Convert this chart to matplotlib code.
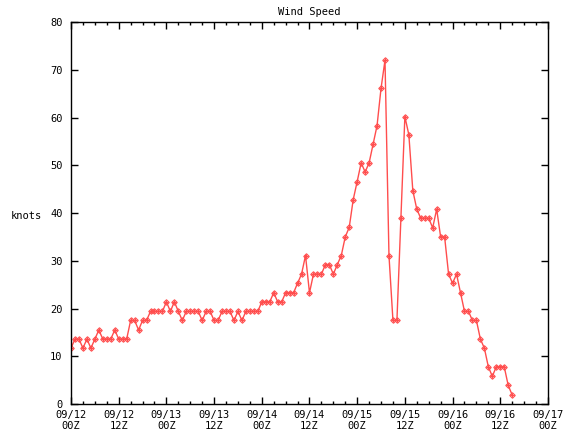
import numpy as np
import matplotlib
matplotlib.use("Agg")
import matplotlib.pyplot as plt

# hourly wind speed (knots) starting 09/12 00Z
speed = [11.7, 13.6, 13.6, 11.7, 13.6, 11.7, 13.6, 15.5, 13.6, 13.6,
         13.6, 15.5, 13.6, 13.6, 13.6, 17.5, 17.5, 15.5, 17.5, 17.5,
         19.4, 19.4, 19.4, 19.4, 21.4, 19.4, 21.4, 19.4, 17.5, 19.4,
         19.4, 19.4, 19.4, 17.5, 19.4, 19.4, 17.5, 17.5, 19.4, 19.4,
         19.4, 17.5, 19.4, 17.5, 19.4, 19.4, 19.4, 19.4, 21.4, 21.4,
         21.4, 23.3, 21.4, 21.4, 23.3, 23.3, 23.3, 25.3, 27.2, 31.1,
         23.3, 27.2, 27.2, 27.2, 29.2, 29.2, 27.2, 29.2, 31.1, 35.0,
         37.0, 42.8, 46.6, 50.5, 48.6, 50.5, 54.4, 58.3, 66.1, 72.0,
         31.1, 17.5, 17.5, 38.9, 60.2, 56.4, 44.7, 40.8, 38.9, 38.9,
         38.9, 36.9, 40.8, 35.0, 35.0, 27.2, 25.3, 27.2, 23.3, 19.4,
         19.4, 17.5, 17.5, 13.6, 11.7, 7.8, 5.8, 7.8, 7.8, 7.8,
         3.9, 1.9]
hours = np.arange(len(speed))

xtick_hours = [0, 12, 24, 36, 48, 60, 72, 84, 96, 108, 120]
xtick_labels = ["09/12\n00Z", "09/12\n12Z", "09/13\n00Z", "09/13\n12Z",
                "09/14\n00Z", "09/14\n12Z", "09/15\n00Z", "09/15\n12Z",
                "09/16\n00Z", "09/16\n12Z", "09/17\n00Z"]

plt.rcParams['font.family'] = ['DejaVu Sans Mono']
plt.rcParams['font.size'] = 7.5

fig = plt.figure(figsize=(5.76, 4.32), dpi=100)
ax = fig.add_axes([0.1233, 0.0648, 0.828, 0.8842])

col = '#ff4d4d'
ax.plot(hours, speed, color=col, lw=1)
ax.plot(hours, speed, ls='none', marker='D', ms=2.8, mfc='none', mec=col, mew=0.8)
ax.plot(hours, speed, ls='none', marker='+', ms=2.8, color=col, mew=0.8)

ax.set_xlim(0, 120)
ax.set_ylim(0, 80)
ax.set_xticks(xtick_hours)
ax.set_xticklabels(xtick_labels)
ax.set_xticks(np.arange(0, 121, 3), minor=True)
ax.set_yticks(np.arange(0, 81, 10))
ax.tick_params(direction='in', top=True, right=True, length=5, width=1, pad=6)
ax.tick_params(which='minor', direction='in', top=True, length=2.5, width=1)
ax.tick_params(axis='x', pad=4)
for s in ax.spines.values():
    s.set_linewidth(1)

ax.set_title("Wind Speed", fontsize=7.5, pad=5)
fig.text(0.045, 0.5, "knots", rotation=0, ha='center', va='center', fontsize=7.5)

fig.savefig("out.png", dpi=100)
